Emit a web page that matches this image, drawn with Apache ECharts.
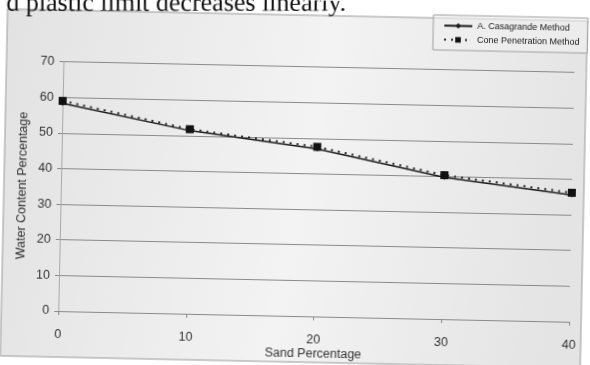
<!DOCTYPE html>
<html>
<head>
<meta charset="utf-8">
<script src="https://cdn.jsdelivr.net/npm/echarts@6/dist/echarts.min.js"></script>
<style>
  html, body { margin: 0; padding: 0; background: #ffffff; overflow: hidden; }
  #chart { width: 590px; height: 365px; transform: rotate(1.2deg); transform-origin: 50% 50%; }
</style>
</head>
<body>
<div id="chart"></div>
<script>
// Sand content (%) on the x axis
const sandPct = [0, 10, 20, 30, 40];
// Liquid limit by the Casagrande cup
const casagrande = [58.3, 51.4, 47.0, 39.8, 35.6];
// Liquid limit by the fall cone
const conePenetration = [59.0, 51.8, 47.6, 40.4, 36.2];
// Axis tick labels
const xTickLabels = ['0', '10', '20', '30', '40'];
const yTickLabels = ['0', '10', '20', '30', '40', '50', '60', '70'];
const seriesNames = ['A. Casagrande Method', 'Cone Penetration Method'];

const pairs = vals => sandPct.map((s, i) => [s, vals[i]]);
const ink = '#1a1a1a';
const gridGray = '#8a8a8a';
const labelFont = 'Liberation Sans, Arial, sans-serif';

const chart = echarts.init(document.getElementById('chart'), null, { renderer: 'canvas' });

chart.setOption({
  animation: false,
  backgroundColor: 'transparent',
  graphic: [
    {
      type: 'rect', z: -10, silent: true,
      shape: { x: 4, y: 15, width: 580, height: 347 },
      style: {
        fill: new echarts.graphic.LinearGradient(0, 0, 1, 0.3, [
          { offset: 0, color: '#e2e2e2' },
          { offset: 0.42, color: '#efefef' },
          { offset: 0.55, color: '#f3f3f3' },
          { offset: 1, color: '#e4e4e4' }
        ]),
        stroke: '#9a9a9a', lineWidth: 1
      }
    },
    {
      type: 'text', silent: true, z: 10,
      x: 3, y: 23, rotation: 1.2 * Math.PI / 180,
      style: {
        text: 'd plastic limit decreases linearly.',
        font: '26px "Liberation Serif", "Times New Roman", serif',
        fill: '#111', verticalAlign: 'bottom', align: 'left'
      }
    }
  ],
  legend: {
    orient: 'vertical',
    left: 430, top: 12,
    width: 155,
    padding: [6, 8, 6, 10],
    itemGap: 5,
    itemWidth: 28,
    itemHeight: 7,
    backgroundColor: 'rgba(240,240,240,0.6)',
    borderColor: '#a0a0a0', borderWidth: 1, borderRadius: 0,
    textStyle: { fontSize: 9, color: ink, fontFamily: labelFont },
    data: seriesNames
  },
  grid: { left: 61, right: 18, top: 66.6, bottom: 47.5 },
  xAxis: {
    type: 'value', min: 0, max: 40, interval: 10,
    name: 'Sand Percentage', nameLocation: 'middle', nameGap: 31,
    nameMoveOverlap: false,
    nameTextStyle: { fontSize: 12.5, color: '#333', fontFamily: labelFont },
    axisLine: { show: true, lineStyle: { color: gridGray, width: 1 } },
    axisTick: { show: true, length: 4, lineStyle: { color: gridGray } },
    splitLine: { show: false },
    axisLabel: {
      margin: 17, fontSize: 12.5, color: '#333', fontFamily: labelFont,
      formatter: v => xTickLabels[sandPct.indexOf(v)] ?? String(v)
    }
  },
  yAxis: {
    type: 'value', min: 0, max: 70, interval: 10,
    name: 'Water Content Percentage', nameLocation: 'middle', nameGap: 32, nameRotate: 90,
    nameMoveOverlap: false,
    nameTextStyle: { fontSize: 12.5, color: '#333', fontFamily: labelFont },
    axisLine: { show: true, lineStyle: { color: '#aaaaaa', width: 1 } },
    axisTick: { show: true, length: 4, lineStyle: { color: gridGray } },
    splitLine: { show: true, lineStyle: { color: gridGray, width: 1 } },
    axisLabel: {
      margin: 9, fontSize: 12.5, color: '#333', fontFamily: labelFont,
      formatter: v => yTickLabels[v / 10] ?? String(v)
    }
  },
  series: [
    {
      name: seriesNames[0], type: 'line', z: 3,
      data: pairs(casagrande),
      symbol: 'diamond', symbolSize: 5,
      lineStyle: { color: ink, width: 1.5 },
      itemStyle: { color: ink }
    },
    {
      name: seriesNames[1], type: 'line', z: 4,
      data: pairs(conePenetration),
      symbol: 'rect', symbolSize: 8,
      lineStyle: { color: '#2a2a2a', width: 2, type: [2, 5] },
      itemStyle: { color: '#111' }
    }
  ]
});
</script>
</body>
</html>
